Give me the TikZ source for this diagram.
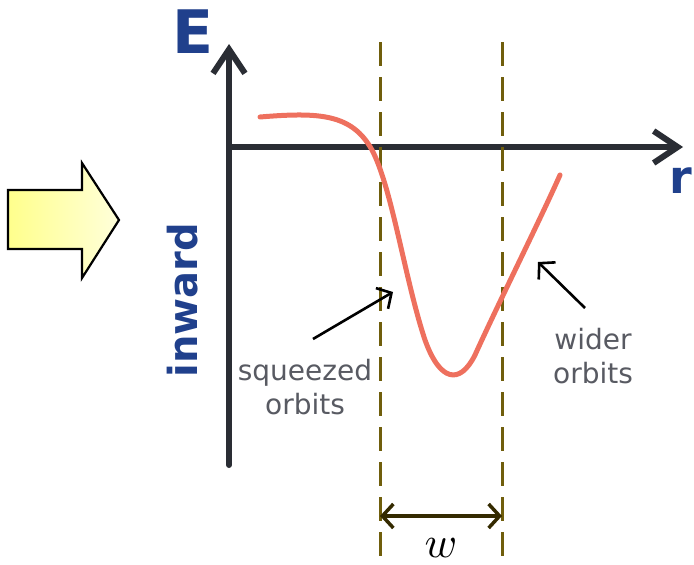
\documentclass[tikz,border=0pt]{standalone}
\usepackage{fontspec}
\usepackage{tikz}
\usetikzlibrary{
  arrows.meta,%
  calc,%
  positioning
}
\newfontfamily\handfont{DejaVu Sans}
\definecolor{axisgray}{RGB}{42,45,52}
\definecolor{labelblue}{RGB}{32,64,140}
\definecolor{curvered}{RGB}{238,112,94}
\definecolor{wallolive}{RGB}{112,94,12}
\definecolor{spandark}{RGB}{52,42,0}
\definecolor{notegray}{RGB}{88,90,98}
\definecolor{yellowdeep}{RGB}{255,255,140}
\definecolor{yellowpale}{RGB}{255,255,218}
\tikzset{>=Straight Barb}
\tikzset{axisline/.style={line width=6pt, draw=axisgray, line cap=round,
    -{Straight Barb[length=24pt, width=32pt, line width=6pt]}}}
\tikzset{wall/.style={line width=3pt, draw=wallolive, dash pattern=on 24pt off 11pt}}
\tikzset{pointer/.style={line width=2.6pt, -{Straight Barb[length=11pt, width=24pt]}}}
\tikzset{note/.style={text=notegray, align=center, inner sep=0pt,
    font=\handfont\fontsize{28}{34}\selectfont}}
\tikzset{axislabel/.style={text=labelblue, inner sep=0pt, font=\handfont\bfseries}}

\begin{document}
\begin{tikzpicture}[x=1pt, y=-1pt]
          \useasboundingbox (0,0) rectangle (694,565);
          % big arrow on the left
          \path[draw=black, line width=2.2pt, line join=miter, left color=yellowdeep, right color=yellowpale]
            (8,190) -- (82,190) -- (82,163) -- (119,220) -- (82,278) -- (82,249) -- (8,249) -- cycle;
          % axes
          \coordinate (origin) at (229,147);
          \coordinate (ybottom) at (229,465);
          \coordinate (ytop) at (229,44);
          \coordinate (xend) at (683,147);
          \draw[axisline] (ybottom) -- (ytop);
          \draw[axisline, line cap=butt] (origin) -- (xend);
          \node[axislabel, font=\handfont\bfseries\fontsize{60}{60}\selectfont] (Elabel) at (193,32) {E};
          \node[axislabel, font=\handfont\bfseries\fontsize{46}{46}\selectfont] (rlabel) at (681,181) {r};
          \node[axislabel, rotate=90, font=\handfont\bfseries\fontsize{40}{40}\selectfont] (inward) at (183,300) {inward};
          % walls of the well
          \coordinate (leftwalltop) at (380,42);
          \coordinate (leftwallbot) at (380,560);
          \coordinate (rightwalltop) at (502,42);
          \coordinate (rightwallbot) at (502,560);
          \draw[wall] (leftwalltop) -- (leftwallbot);
          \draw[wall] (rightwalltop) -- (rightwallbot);
          % potential curve
          \draw[curvered, line width=5pt, line cap=round]
            (260,117) .. controls (320,112) and (352,114) .. (372,150)
            .. controls (392,188) and (405,280) .. (425,340)
            .. controls (440,382) and (460,385) .. (475,355)
            .. controls (500,300) and (540,220) .. (560,175);
          % width of the well
          \coordinate (spanleft) at (380,516);
          \coordinate (spanright) at (502,516);
          \draw[spandark, line width=3.5pt, {Straight Barb[length=11pt, width=24pt]}-{Straight Barb[length=11pt, width=24pt]}]
            (spanleft) -- (spanright);
          \node[inner sep=0pt] (wlabel) at (441,548) {\scalebox{4.4}{$w$}};
          % notes
          \node[note] (squeezed) at (305,387) {squeezed\\orbits};
          \node[note] (wider) at (593,356) {wider\\orbits};
          \coordinate (sqztail) at (313,339);
          \coordinate (sqztip) at (393,292);
          \coordinate (widetail) at (585,308);
          \coordinate (widetip) at (538,262);
          \draw[pointer] (sqztail) -- (sqztip);
          \draw[pointer] (widetail) -- (widetip);
        \end{tikzpicture}
\end{document}
